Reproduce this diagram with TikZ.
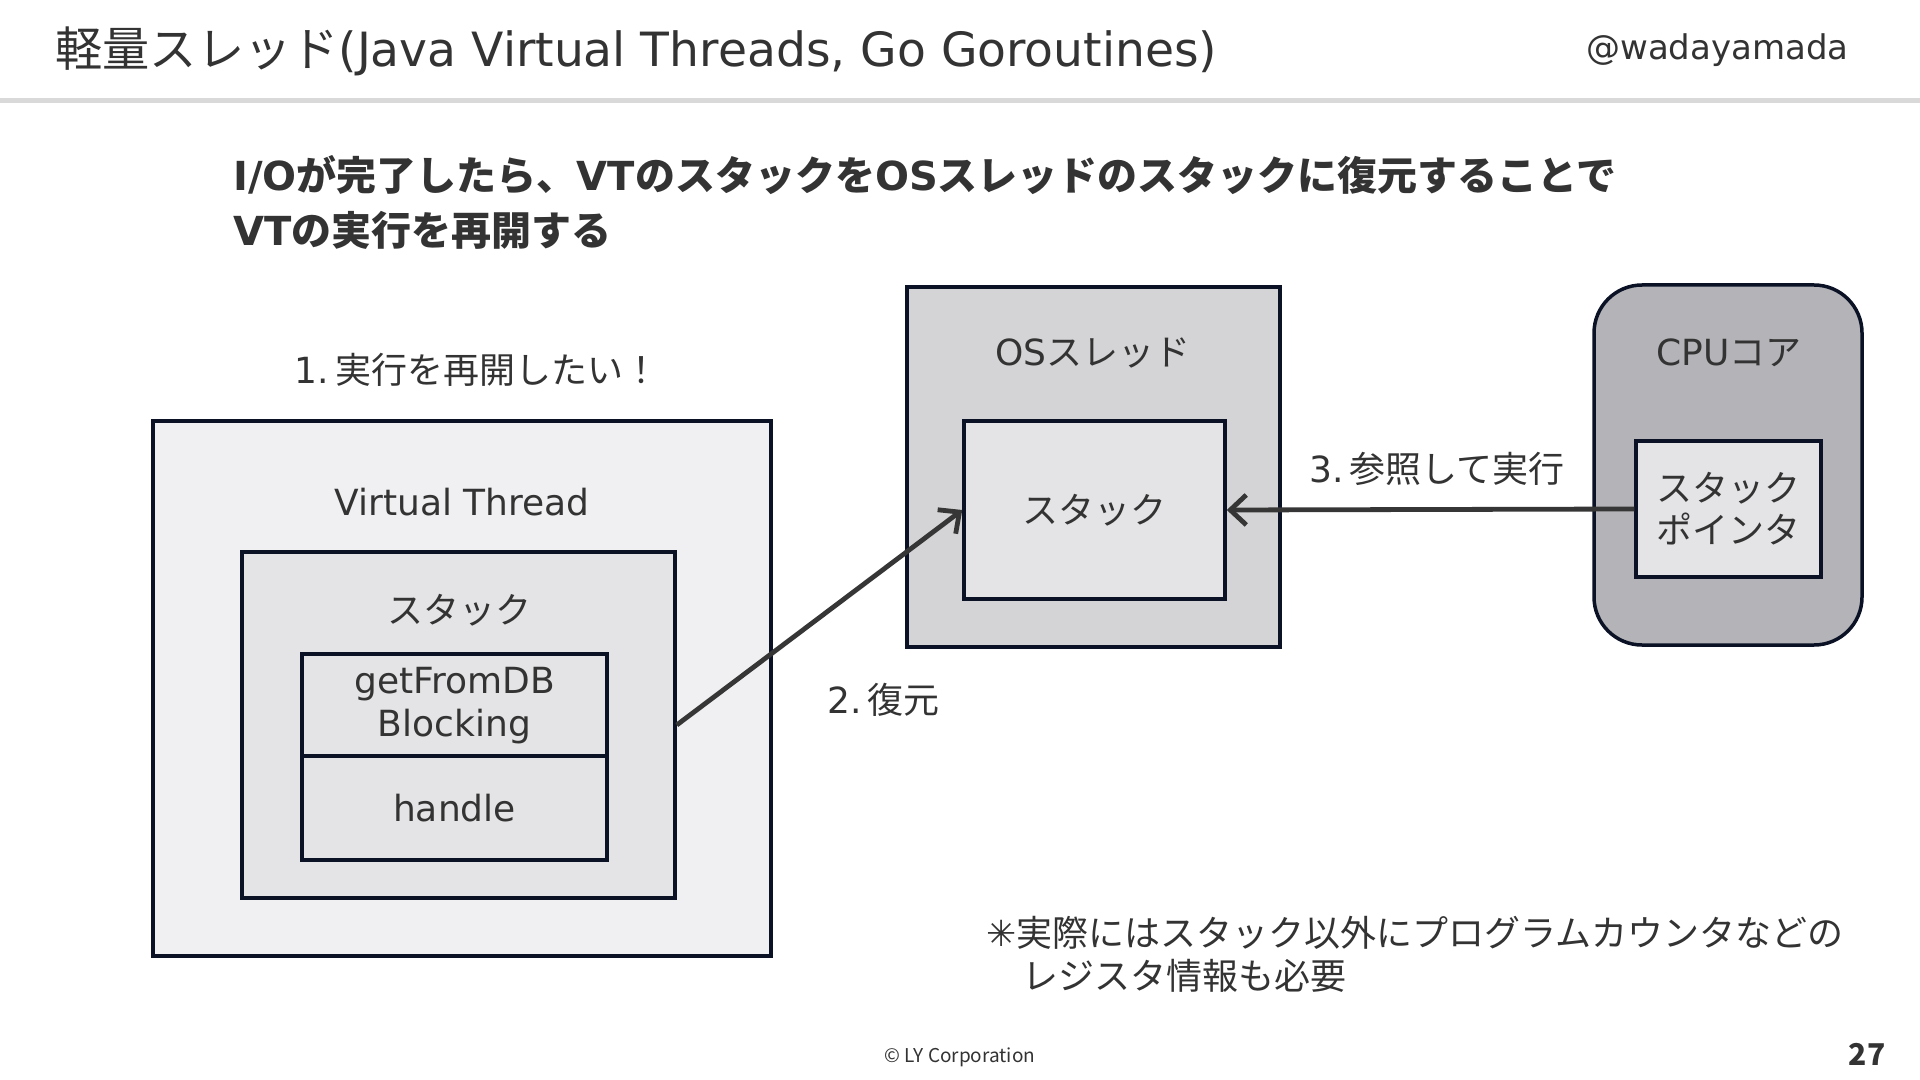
\documentclass[tikz,border=0pt]{standalone}
\usepackage{fontspec}
\setmainfont{DejaVu Sans}
\newfontfamily\jp{Noto Sans CJK JP}
\usetikzlibrary{arrows.meta,positioning}
\definecolor{inkline}{HTML}{0B1226}
\definecolor{inktext}{HTML}{333333}
\definecolor{vtfill}{HTML}{F0F0F2}
\definecolor{stackfill}{HTML}{E4E4E6}
\definecolor{osfill}{HTML}{D4D4D6}
\definecolor{cpufill}{HTML}{B4B4B8}
\definecolor{rulegray}{HTML}{D9D9D9}
\definecolor{arrowgray}{HTML}{363636}
\tikzset{
  plainbox/.style={draw=inkline, line width=1.75pt, inner sep=0pt, align=center,
    text=inktext, font=\fontsize{18}{21.5}\selectfont},
  vtbox/.style={plainbox, fill=vtfill},
  stackbox/.style={plainbox, fill=stackfill},
  osbox/.style={plainbox, fill=osfill},
  cpubox/.style={plainbox, fill=cpufill, rounded corners=24pt},
  lbl/.style={text=inktext, inner sep=0pt, font=\fontsize{18}{21.5}\selectfont},
  arr/.style={-{Straight Barb[length=8pt,width=15pt]}, line width=2.4pt, draw=arrowgray}
}

\begin{document}
\begin{tikzpicture}[x=0.5pt, y=-0.5pt]
    \useasboundingbox (0,0) rectangle (1920,1080);
    \fill[white] (0,0) rectangle (1920,1080);
    % header
    \node[lbl, anchor=west, font=\fontsize{23.6}{28}\selectfont] (title) at (55,51)
      {{\jp 軽量スレッド}(Java Virtual Threads, Go Goroutines)};
    \node[lbl, anchor=east, font=\fontsize{17}{20}\selectfont] (author) at (1849,50) {@wadayamada};
    \draw[rulegray, line width=2.5pt] (0,101) -- (1920,101);
    \node[lbl, anchor=west, align=left, font=\bfseries\fontsize{20}{27.5}\selectfont] (lead) at (233,202.5)
      {I/O{\jp が完了したら、}VT{\jp のスタックを}OS{\jp スレッドのスタックに復元することで}\\
       VT{\jp の実行を再開する}};

    % virtual thread
    \node[vtbox, minimum width=309pt, minimum height=267.5pt] (vt) at (462,688.5) {};
    \node[lbl] (vtlbl) at (462,502) {Virtual Thread};
    \node[stackbox, minimum width=216.5pt, minimum height=173pt] (vtstack) at (458.5,725) {};
    \node[lbl] (vtstacklbl) at (459,610) {\jp スタック};
    \node[stackbox, minimum width=152.5pt, minimum height=52pt] (getdb) at (454.5,706) {getFromDB\\Blocking};
    \node[stackbox, minimum width=152.5pt, minimum height=52pt] (handle) at (454.5,808) {handle};
    \node[lbl] (step1) at (477,370) {1.\,{\jp 実行を再開したい！}};

    % os thread
    \node[osbox, minimum width=186.5pt, minimum height=180pt] (os) at (1093.5,467) {};
    \node[lbl] (oslbl) at (1093,353) {OS{\jp スレッド}};
    \node[stackbox, minimum width=130.5pt, minimum height=89pt] (osstack) at (1094.5,510) {\jp スタック};

    % cpu core
    \node[cpubox, minimum width=134pt, minimum height=180pt] (cpu) at (1728,465) {};
    \node[lbl] (cpulbl) at (1729,353) {CPU{\jp コア}};
    \node[stackbox, minimum width=92.5pt, minimum height=68pt, font=\jp\fontsize{18}{21}\selectfont] (sp) at (1728.5,509) {スタック\\ポインタ};

    \draw[arr] (vtstack.east) -- (osstack.west);
    \draw[arr] (sp.west) -- (osstack.east);
    \node[lbl, anchor=west] (step2) at (827,700) {2.\,{\jp 復元}};
    \node[lbl] (step3) at (1437,469) {3.\,{\jp 参照して実行}};

    % note and footer
    \node[lbl, anchor=west] (note1) at (986,933) {✳{\jp 実際にはスタック以外にプログラムカウンタなどの}};
    \node[lbl, anchor=west] (note2) at (1022,976) {\jp レジスタ情報も必要};
    \node[lbl, font=\jp\fontsize{9.5}{11}\selectfont] (copy) at (960,1057) {© LY Corporation};
    \node[lbl, font=\jp\bfseries\fontsize{15}{18}\selectfont] (page) at (1867,1054) {27};
  \end{tikzpicture}
\end{document}
